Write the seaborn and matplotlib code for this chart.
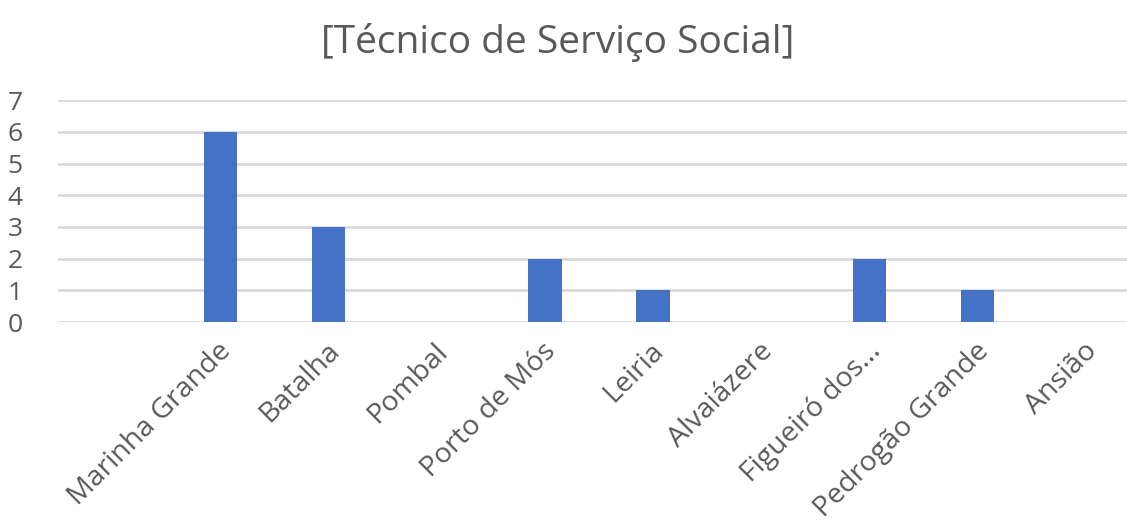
import matplotlib
matplotlib.use("Agg")
import matplotlib.pyplot as plt
import matplotlib.transforms as mtransforms
import seaborn as sns
import pandas as pd

# data (first slot has no label)
municipios = ["", "Marinha Grande", "Batalha", "Pombal", "Porto de Mós", "Leiria",
              "Alvaiázere", "Figueiró dos...", "Pedrogão Grande", "Ansião"]
valores = [0, 6, 3, 0, 2, 1, 0, 2, 1, 0]
yticks = [0, 1, 2, 3, 4, 5, 6, 7]

df = pd.DataFrame({"municipio": municipios, "valor": valores})

sns.set_style("white")
plt.rcParams['font.family'] = ['Open Sans', 'DejaVu Sans']

fig = plt.figure(figsize=(11.27, 5.22), dpi=100)
ax = fig.add_axes([0.0515, 0.383, 0.9485, 0.425])

sns.barplot(data=df, x="municipio", y="valor", color="#4472C4", width=0.31,
            saturation=1, ax=ax, zorder=3, linewidth=0)

ax.set_ylim(0, 7)
ax.set_xlim(-0.5, 9.38)
ax.set_yticks(yticks)
ax.yaxis.grid(True, color="#d9d9d9", linewidth=2, zorder=0)
ax.set_axisbelow(True)
for s in ax.spines.values():
    s.set_visible(False)

ax.set_xlabel("")
ax.set_ylabel("")
ax.tick_params(axis="y", length=0, pad=14, labelsize=19, labelcolor="#595959")
ax.tick_params(axis="x", length=0, pad=18, labelsize=20.5, labelcolor="#595959")
shift = mtransforms.ScaledTranslation(0.07, 0, fig.dpi_scale_trans)
for lab in ax.get_xticklabels():
    lab.set_rotation(45)
    lab.set_horizontalalignment("right")
    lab.set_verticalalignment("center")
    lab.set_rotation_mode("anchor")
    lab.set_transform(lab.get_transform() + shift)
for lab in ax.get_yticklabels():
    lab.set_horizontalalignment("center")
    lab.set_x(-0.022)

fig.text(0.495, 0.918, "[Técnico de Serviço Social]", ha="center", va="center",
         fontsize=28, color="#595959")

fig.savefig("out.png", dpi=100)
